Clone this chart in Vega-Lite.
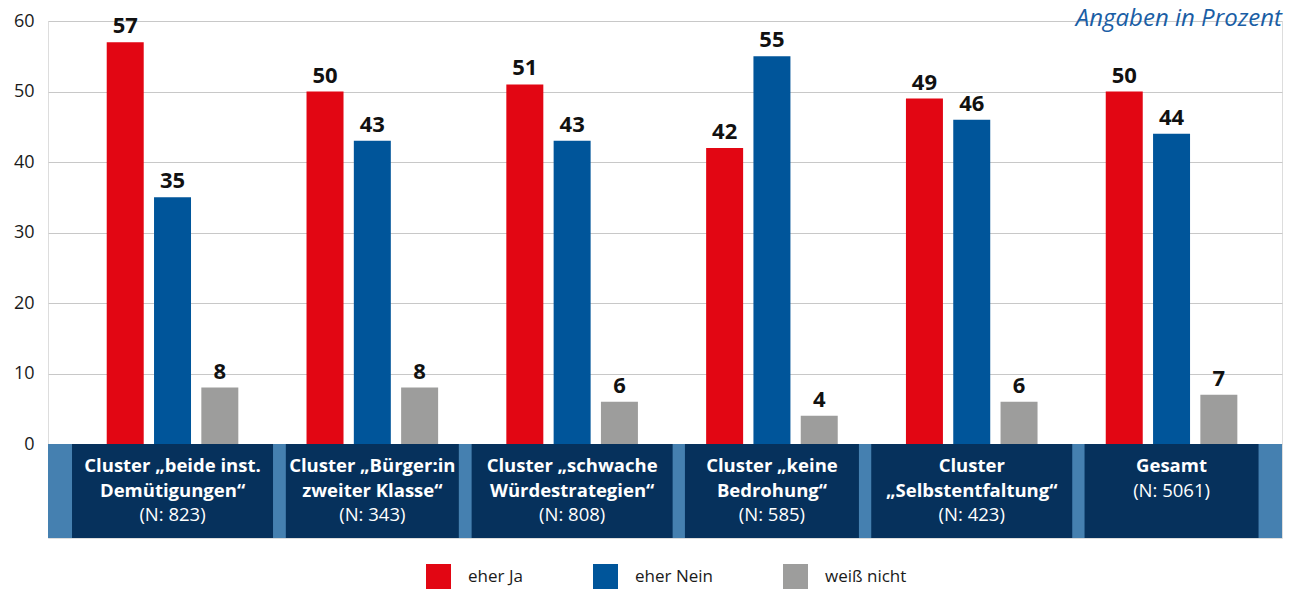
{
  "$schema": "https://vega.github.io/schema/vega-lite/v6.json",
  "width": 1234,
  "height": 517,
  "autosize": "none",
  "padding": {"top": 21, "left": 48, "right": 13, "bottom": 54},
  "background": "white",
  "title": {"text": "Angaben in Prozent", "anchor": "end", "orient": "top", "frame": "group", "offset": -38, "baseline": "alphabetic", "fontSize": 24, "fontStyle": "italic", "fontWeight": "normal", "font": "Open Sans", "color": "#1a5ea5"},
  "datasets": {
    "bars": [
      {"cat": "c1", "answer": "eher Ja", "value": 57},
      {"cat": "c1", "answer": "eher Nein", "value": 35},
      {"cat": "c1", "answer": "weiß nicht", "value": 8},
      {"cat": "c2", "answer": "eher Ja", "value": 50},
      {"cat": "c2", "answer": "eher Nein", "value": 43},
      {"cat": "c2", "answer": "weiß nicht", "value": 8},
      {"cat": "c3", "answer": "eher Ja", "value": 51},
      {"cat": "c3", "answer": "eher Nein", "value": 43},
      {"cat": "c3", "answer": "weiß nicht", "value": 6},
      {"cat": "c4", "answer": "eher Ja", "value": 42},
      {"cat": "c4", "answer": "eher Nein", "value": 55},
      {"cat": "c4", "answer": "weiß nicht", "value": 4},
      {"cat": "c5", "answer": "eher Ja", "value": 49},
      {"cat": "c5", "answer": "eher Nein", "value": 46},
      {"cat": "c5", "answer": "weiß nicht", "value": 6},
      {"cat": "c6", "answer": "eher Ja", "value": 50},
      {"cat": "c6", "answer": "eher Nein", "value": 44},
      {"cat": "c6", "answer": "weiß nicht", "value": 7}
    ],
    "cats": [
      {"cat": "c1", "lines": ["Cluster „beide inst.", "Demütigungen“"], "n": "(N: 823)"},
      {"cat": "c2", "lines": ["Cluster „Bürger:in", "zweiter Klasse“"], "n": "(N: 343)"},
      {"cat": "c3", "lines": ["Cluster „schwache", "Würdestrategien“"], "n": "(N: 808)"},
      {"cat": "c4", "lines": ["Cluster „keine", "Bedrohung“"], "n": "(N: 585)"},
      {"cat": "c5", "lines": ["Cluster", "„Selbstentfaltung“"], "n": "(N: 423)"},
      {"cat": "c6", "lines": ["Gesamt"], "n": "(N: 5061)"}
    ]
  },
  "layer": [
    {
      "data": {"values": [{}]},
      "mark": {"type": "rect", "color": "#4580b0"},
      "encoding": {
        "y": {"datum": -13.33, "type": "quantitative"},
        "y2": {"datum": 0}
      }
    },
    {
      "data": {"name": "cats"},
      "mark": {"type": "bar", "color": "#06315c"},
      "encoding": {
        "x": {"field": "cat", "type": "nominal", "axis": null, "scale": {"paddingInner": 0, "paddingOuter": 0.088, "align": 0.7}},
        "y": {"datum": -13.33, "type": "quantitative"},
        "y2": {"datum": 0},
        "size": {"field": "cat", "type": "nominal", "legend": null, "scale": {"type": "ordinal", "domain": ["c1", "c2", "c3", "c4", "c5", "c6"], "range": [201, 173, 201, 174, 201, 174]}}
      }
    },
    {
      "data": {"name": "bars"},
      "mark": {"type": "bar"},
      "encoding": {
        "x": {"field": "cat", "type": "nominal", "axis": null, "scale": {"paddingInner": 0, "paddingOuter": 0.088, "align": 0.7}},
        "xOffset": {"field": "answer", "type": "nominal", "scale": {"paddingInner": 0.218, "paddingOuter": 0.721}},
        "y": {"field": "value", "type": "quantitative", "scale": {"domain": [-13.33, 60], "nice": false, "zero": false},
          "axis": {"values": [0, 10, 20, 30, 40, 50, 60], "title": null, "domain": false, "ticks": false, "grid": true, "gridColor": "#c8c8c8", "gridWidth": 1, "labelFont": "Open Sans", "labelFontSize": 18, "labelColor": "#1a1a1a", "labelPadding": 14}},
        "color": {"field": "answer", "type": "nominal",
          "scale": {"domain": ["eher Ja", "eher Nein", "weiß nicht"], "range": ["#e20613", "#00559a", "#9d9d9c"]},
          "legend": {"title": null, "orient": "none", "legendX": 378, "legendY": 543, "direction": "horizontal", "symbolType": "square", "symbolSize": 625, "symbolStrokeWidth": 0, "symbolOpacity": 1, "labelFont": "Open Sans", "labelFontSize": 17, "labelColor": "#1a1a1a", "labelOffset": 17, "columnPadding": 70}}
      }
    },
    {
      "data": {"name": "bars"},
      "mark": {"type": "text", "baseline": "alphabetic", "dy": -9, "font": "Open Sans", "fontWeight": "bold", "fontSize": 22, "color": "#111111"},
      "encoding": {
        "x": {"field": "cat", "type": "nominal", "axis": null},
        "xOffset": {"field": "answer", "type": "nominal"},
        "y": {"field": "value", "type": "quantitative"},
        "text": {"field": "value", "type": "quantitative"}
      }
    },
    {
      "data": {"name": "cats"},
      "mark": {"type": "text", "baseline": "alphabetic", "align": "center", "font": "Open Sans", "fontWeight": "bold", "fontSize": 18.5, "lineHeight": 24.5, "color": "#ffffff"},
      "encoding": {
        "x": {"field": "cat", "type": "nominal", "axis": null},
        "y": {"datum": -3.97, "type": "quantitative"},
        "text": {"field": "lines"}
      }
    },
    {
      "data": {"name": "cats"},
      "transform": [{"filter": "datum.cat != 'c6'"}],
      "mark": {"type": "text", "baseline": "alphabetic", "align": "center", "font": "Open Sans", "fontWeight": "normal", "fontSize": 18.5, "color": "#ffffff"},
      "encoding": {
        "x": {"field": "cat", "type": "nominal", "axis": null},
        "y": {"datum": -10.92, "type": "quantitative"},
        "text": {"field": "n"}
      }
    },
    {
      "data": {"name": "cats"},
      "transform": [{"filter": "datum.cat == 'c6'"}],
      "mark": {"type": "text", "baseline": "alphabetic", "align": "center", "font": "Open Sans", "fontWeight": "normal", "fontSize": 18.5, "color": "#ffffff"},
      "encoding": {
        "x": {"field": "cat", "type": "nominal", "axis": null},
        "y": {"datum": -7.45, "type": "quantitative"},
        "text": {"field": "n"}
      }
    }
  ]
}
